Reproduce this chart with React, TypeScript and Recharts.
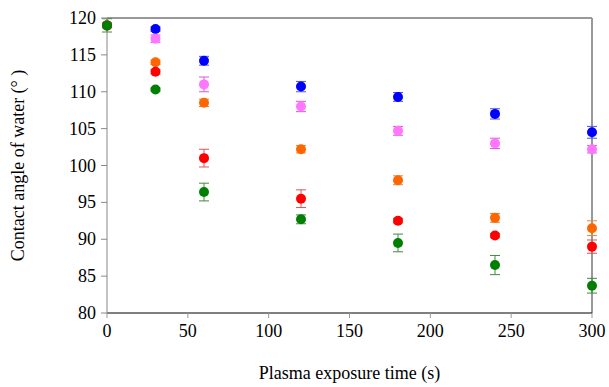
import { ScatterChart, Scatter, XAxis, YAxis, ErrorBar, ReferenceLine, Label } from "recharts"

const times = [0, 30, 60, 120, 180, 240, 300]

const blueAngle = [119.0, 118.5, 114.2, 110.7, 109.3, 107.0, 104.5]
const blueErr = [0.3, 0.3, 0.6, 0.7, 0.6, 0.7, 0.8]
const pinkAngle = [119.0, 117.2, 111.0, 108.0, 104.7, 103.0, 102.2]
const pinkErr = [0.3, 0.5, 1.0, 0.7, 0.6, 0.7, 0.5]
const orangeAngle = [119.0, 114.0, 108.5, 102.2, 98.0, 92.9, 91.5]
const orangeErr = [0.3, 0.3, 0.5, 0.5, 0.6, 0.6, 1.0]
const redAngle = [119.0, 112.7, 101.0, 95.5, 92.5, 90.5, 89.0]
const redErr = [0.3, 0.3, 1.2, 1.2, 0.3, 0.3, 0.9]
const greenAngle = [119.0, 110.3, 96.4, 92.7, 89.5, 86.5, 83.7]
const greenErr = [0.9, 0.2, 1.2, 0.6, 1.2, 1.3, 1.0]

const xTicks = [0, 50, 100, 150, 200, 250, 300]
const yTicks = [80, 85, 90, 95, 100, 105, 110, 115, 120]

const series = [
  { name: "blue", color: "#0000ff", errColor: "#5555ee", values: blueAngle, errs: blueErr },
  { name: "pink", color: "#ff77ff", errColor: "#dd55dd", values: pinkAngle, errs: pinkErr },
  { name: "orange", color: "#ff6600", errColor: "#dd8844", values: orangeAngle, errs: orangeErr },
  { name: "red", color: "#ff0000", errColor: "#dd5555", values: redAngle, errs: redErr },
  { name: "green", color: "#008000", errColor: "#448844", values: greenAngle, errs: greenErr },
]

const font = "Liberation Serif"

// custom ticks so the serif font really sticks
const XTick = ({ x, y, payload }: any) => (
  <text x={x} y={y + 17} textAnchor="middle" fill="#000" fontSize={18} fontFamily={font}>
    {payload.value}
  </text>
)
const YTick = ({ x, y, payload }: any) => (
  <text x={x - 3} y={y + 6} textAnchor="end" fill="#000" fontSize={18} fontFamily={font}>
    {payload.value}
  </text>
)

export default function App() {
  return (
    <div style={{ position: "fixed", left: 0, top: 0, background: "#fff", fontFamily: font }}>
      <ScatterChart width={609} height={387} margin={{ top: 18, right: 17, left: 0, bottom: 2 }}>
        <XAxis
          type="number"
          dataKey="x"
          domain={[0, 300]}
          ticks={xTicks}
          stroke="#000"
          tick={<XTick />}
          tickLine={{ stroke: "#999" }}
          tickSize={5}
          height={72}
        >
          <Label value="Plasma exposure time (s)" position="insideBottom" offset={6} style={{ fill: "#000", fontSize: 18, fontFamily: font }} />
        </XAxis>
        <YAxis
          type="number"
          dataKey="y"
          domain={[80, 120]}
          ticks={yTicks}
          width={107}
          stroke="#888"
          tick={<YTick />}
          tickLine={{ stroke: "#888" }}
          tickSize={6}
        >
          <Label
            value="Contact angle of water (° )"
            angle={-90}
            position="insideLeft"
            offset={18}
            style={{ textAnchor: "middle", fill: "#000", fontSize: 18, fontFamily: font }}
          />
        </YAxis>
        <ReferenceLine y={120} stroke="#999" strokeWidth={2} />
        <ReferenceLine x={300} stroke="#999" strokeWidth={2} />
        {series.map((s) => (
          <Scatter
            key={s.name}
            name={s.name}
            data={times.map((t, i) => ({ x: t, y: s.values[i], e: s.errs[i] }))}
            fill={s.color}
            isAnimationActive={false}
            shape={(p: any) => <circle cx={p.cx} cy={p.cy} r={5} fill={s.color} />}
          >
            <ErrorBar dataKey="e" direction="y" width={5} stroke={s.errColor} strokeWidth={1} />
          </Scatter>
        ))}
      </ScatterChart>
    </div>
  )
}
